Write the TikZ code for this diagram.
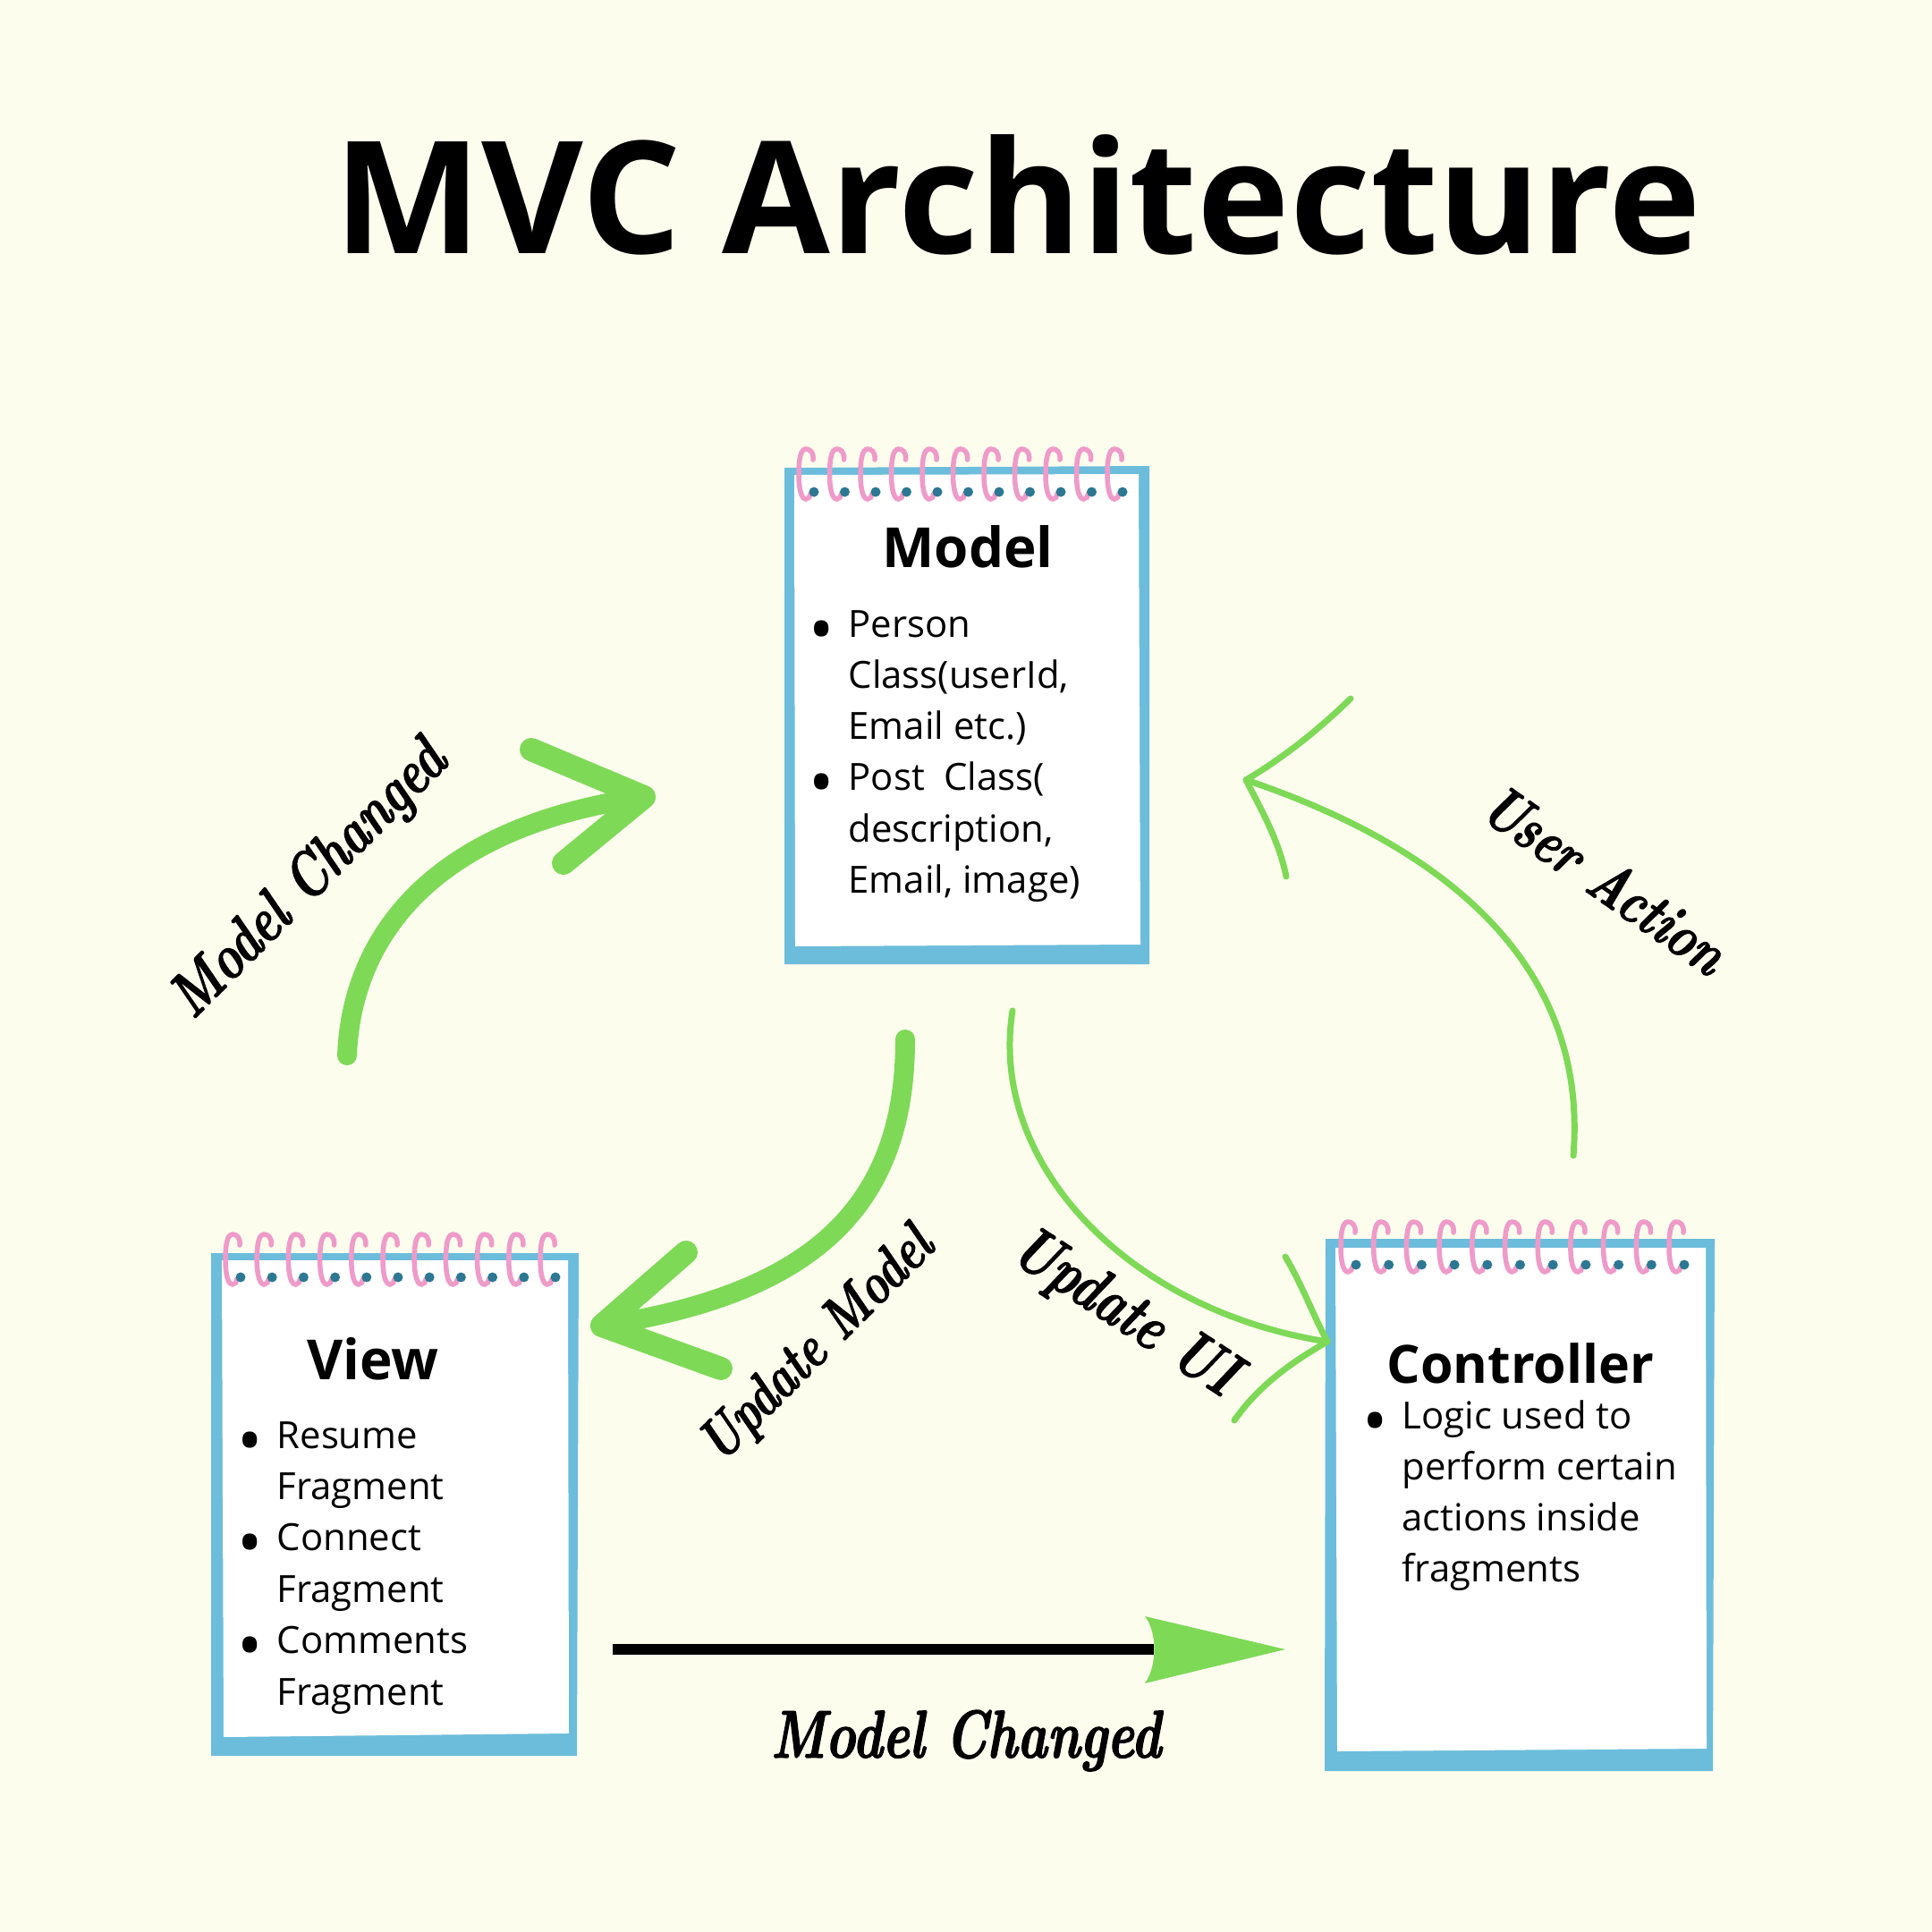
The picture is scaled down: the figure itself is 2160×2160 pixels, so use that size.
\documentclass[tikz,border=0pt]{standalone}
\usepackage{graphicx}
\usepackage{fontspec}
\usetikzlibrary{positioning}

\newfontfamily\boxfont{Open Sans}
\newfontfamily\handfam{lmroman10-bolditalic}[Extension=.otf, FakeBold=1.6, FakeStretch=0.75]
\newcommand{\handfont}[1]{\handfam\fontsize{#1}{#1}\selectfont}
\newcommand{\bul}{\makebox[6mm][c]{\raisebox{-1.8mm}{\scalebox{1.8}{\textbullet}}}}

\definecolor{paper}{HTML}{FDFDEE}
\definecolor{padblue}{HTML}{6CBDDB}
\definecolor{ringpink}{HTML}{EF9BC9}
\definecolor{holeteal}{HTML}{2C7893}
\definecolor{leaf}{HTML}{7ED957}

% one spiral ring: #1 = x of its left side, #2 = top y
\newcommand{\coil}[2]{%
  \draw[ringpink, line width=0.55mm, line cap=round]
    (#1+16,#2+12) .. controls (#1+17,#2+3) and (#1+12,#2) .. (#1+8,#2)
    .. controls (#1+2,#2) and (#1,#2+12) .. (#1,#2+28)
    .. controls (#1,#2+45) and (#1+3,#2+56) .. (#1+8,#2+56)
    .. controls (#1+11,#2+56) and (#1+13,#2+53) .. (#1+13,#2+50);
  \fill[holeteal] (#1+17,#2+48) circle[radius=0.55mm];
}

\begin{document}
\begin{tikzpicture}[
	x=0.1mm, y=-0.1mm,
	maintitle/.style={font={\boxfont\bfseries\fontsize{49.8pt}{60pt}\selectfont}, inner sep=0pt, anchor=base},
	heading/.style={font={\boxfont\bfseries\fontsize{17.6pt}{20pt}\selectfont}, inner sep=0pt, anchor=base},
	itemlist/.style={font={\boxfont\fontsize{11.9pt}{16.2pt}\selectfont}, inner sep=0pt, anchor=base west},
	scriptlbl/.style={inner sep=0pt},
	bigarrow/.style={draw=leaf, line width=2.2mm, line cap=round, line join=round},
	slimarrow/.style={draw=leaf, line width=0.7mm, line cap=round, line join=round}
]

\fill[paper] (0,0) rectangle (2160,2160);
\useasboundingbox (0,0) rectangle (2160,2160);

 \node [maintitle] (title) at (1138,283) {MVC Architecture};

% note pads
\fill[padblue] (877,523) -- (1285,521) -- (1285,1078) -- (877,1078) -- cycle;
\fill[white]   (888,531) -- (1273,530) -- (1275,1056) -- (889,1058) -- cycle;
\fill[padblue] (236,1401) -- (647,1401) -- (645,1963) -- (236,1963) -- cycle;
\fill[white]   (248,1409) -- (635,1409) -- (636,1938) -- (250,1942) -- cycle;
\fill[padblue] (1482,1385) -- (1917,1385) -- (1915,1980) -- (1481,1980) -- cycle;
\fill[white]   (1493,1395) -- (1907,1395) -- (1908,1955) -- (1495,1958) -- cycle;

\foreach \i in {0,...,10} {
  \pgfmathsetmacro\cx{893+34.5*\i}  \coil{\cx}{502}
  \pgfmathsetmacro\cx{252+35.2*\i}  \coil{\cx}{1380}
  \pgfmathsetmacro\cx{1499+36.7*\i} \coil{\cx}{1366}
}

 \node [heading] (model) at (1082,634)  {Model};
 \node [heading] (view)  at (417,1542)  {View};
 \node [heading, font={\boxfont\bfseries\fontsize{16.8pt}{20pt}\selectfont}] (ctrl) at (1700,1546) {Controller};

 \node [itemlist] (modelItems) at (888,712) {\begin{tabular}[t]{@{}l@{}l@{}}
   \bul & Person \\ & Class(userId, \\ & Email etc.) \\
   \bul & Post\ \ Class( \\ & description, \\ & Email, image)
 \end{tabular}};
 \node [itemlist] (viewItems) at (249,1619) {\begin{tabular}[t]{@{}l@{}l@{}}
   \bul & Resume \\ & Fragment \\ \bul & Connect \\ & Fragment \\
   \bul & Comments \\ & Fragment
 \end{tabular}};
 \node [itemlist] (ctrlItems) at (1507,1597) {\begin{tabular}[t]{@{}l@{}l@{}}
   \bul & Logic used to \\ & perform certain \\ & actions inside \\ & fragments
 \end{tabular}};

% arrow ends
\coordinate (mcS) at (388,1180);
\coordinate (mcT) at (720,891);
\coordinate (mcA) at (594,838);
\coordinate (mcB) at (630,965);
\coordinate (umS) at (1012,1162);
\coordinate (umT) at (673,1482);
\coordinate (umA) at (767,1400);
\coordinate (umB) at (806,1530);
\coordinate (uiS) at (1132,1130);
\coordinate (uiT) at (1484,1500);
\coordinate (uiA) at (1437,1405);
\coordinate (uiB) at (1380,1588);
\coordinate (uaS) at (1759,1292);
\coordinate (uaT) at (1393,872);
\coordinate (uaA) at (1510,781);
\coordinate (uaB) at (1438,980);
\coordinate (chL) at (685,1844);
\coordinate (chR) at (1290,1844);

\draw[bigarrow] (mcS) .. controls (393,1050) and (480,925) .. (mcT);
\draw[bigarrow, line width=2.6mm] (mcA) -- (mcT) -- (mcB);

\draw[bigarrow] (umS) .. controls (1012,1340) and (920,1445) .. (umT);
\draw[bigarrow, line width=2.6mm] (umA) -- (umT) -- (umB);

\draw[slimarrow] (uiS) .. controls (1105,1300) and (1260,1465) .. (uiT);
\draw[slimarrow] (uiA) .. controls (1455,1435) and (1468,1470) .. (uiT)
                       .. controls (1440,1525) and (1405,1552) .. (uiB);

\draw[slimarrow] (uaS) .. controls (1775,1095) and (1640,955) .. (uaT);
\draw[slimarrow] (uaA) .. controls (1470,820) and (1430,850) .. (uaT)
                       .. controls (1410,905) and (1430,940) .. (uaB);

\draw[line width=1.2mm] (chL) -- (chR);
\fill[leaf] (1280,1807) .. controls (1294,1825) and (1294,1862) .. (1280,1882) -- (1437,1844) -- cycle;

% labels
 \node [scriptlbl, rotate=45]  (lblChanged) at (347,985)  {\handfont{20pt}Model Changed};
 \node [scriptlbl, rotate=45]  (lblUpModel) at (915,1505) {\handfont{18.6pt}Update Model};
 \node [scriptlbl, rotate=-33] (lblUpUI)    at (1257,1470) {\handfont{20.5pt}Update UI};
 \node [scriptlbl, rotate=-35] (lblAction)  at (1795,983) {\handfont{19.6pt}User Action};
 \node [scriptlbl, anchor=base] (lblBottom) at (1080,1965) {\handfont{21.5pt}Model Changed};

\end{tikzpicture}
\end{document}
